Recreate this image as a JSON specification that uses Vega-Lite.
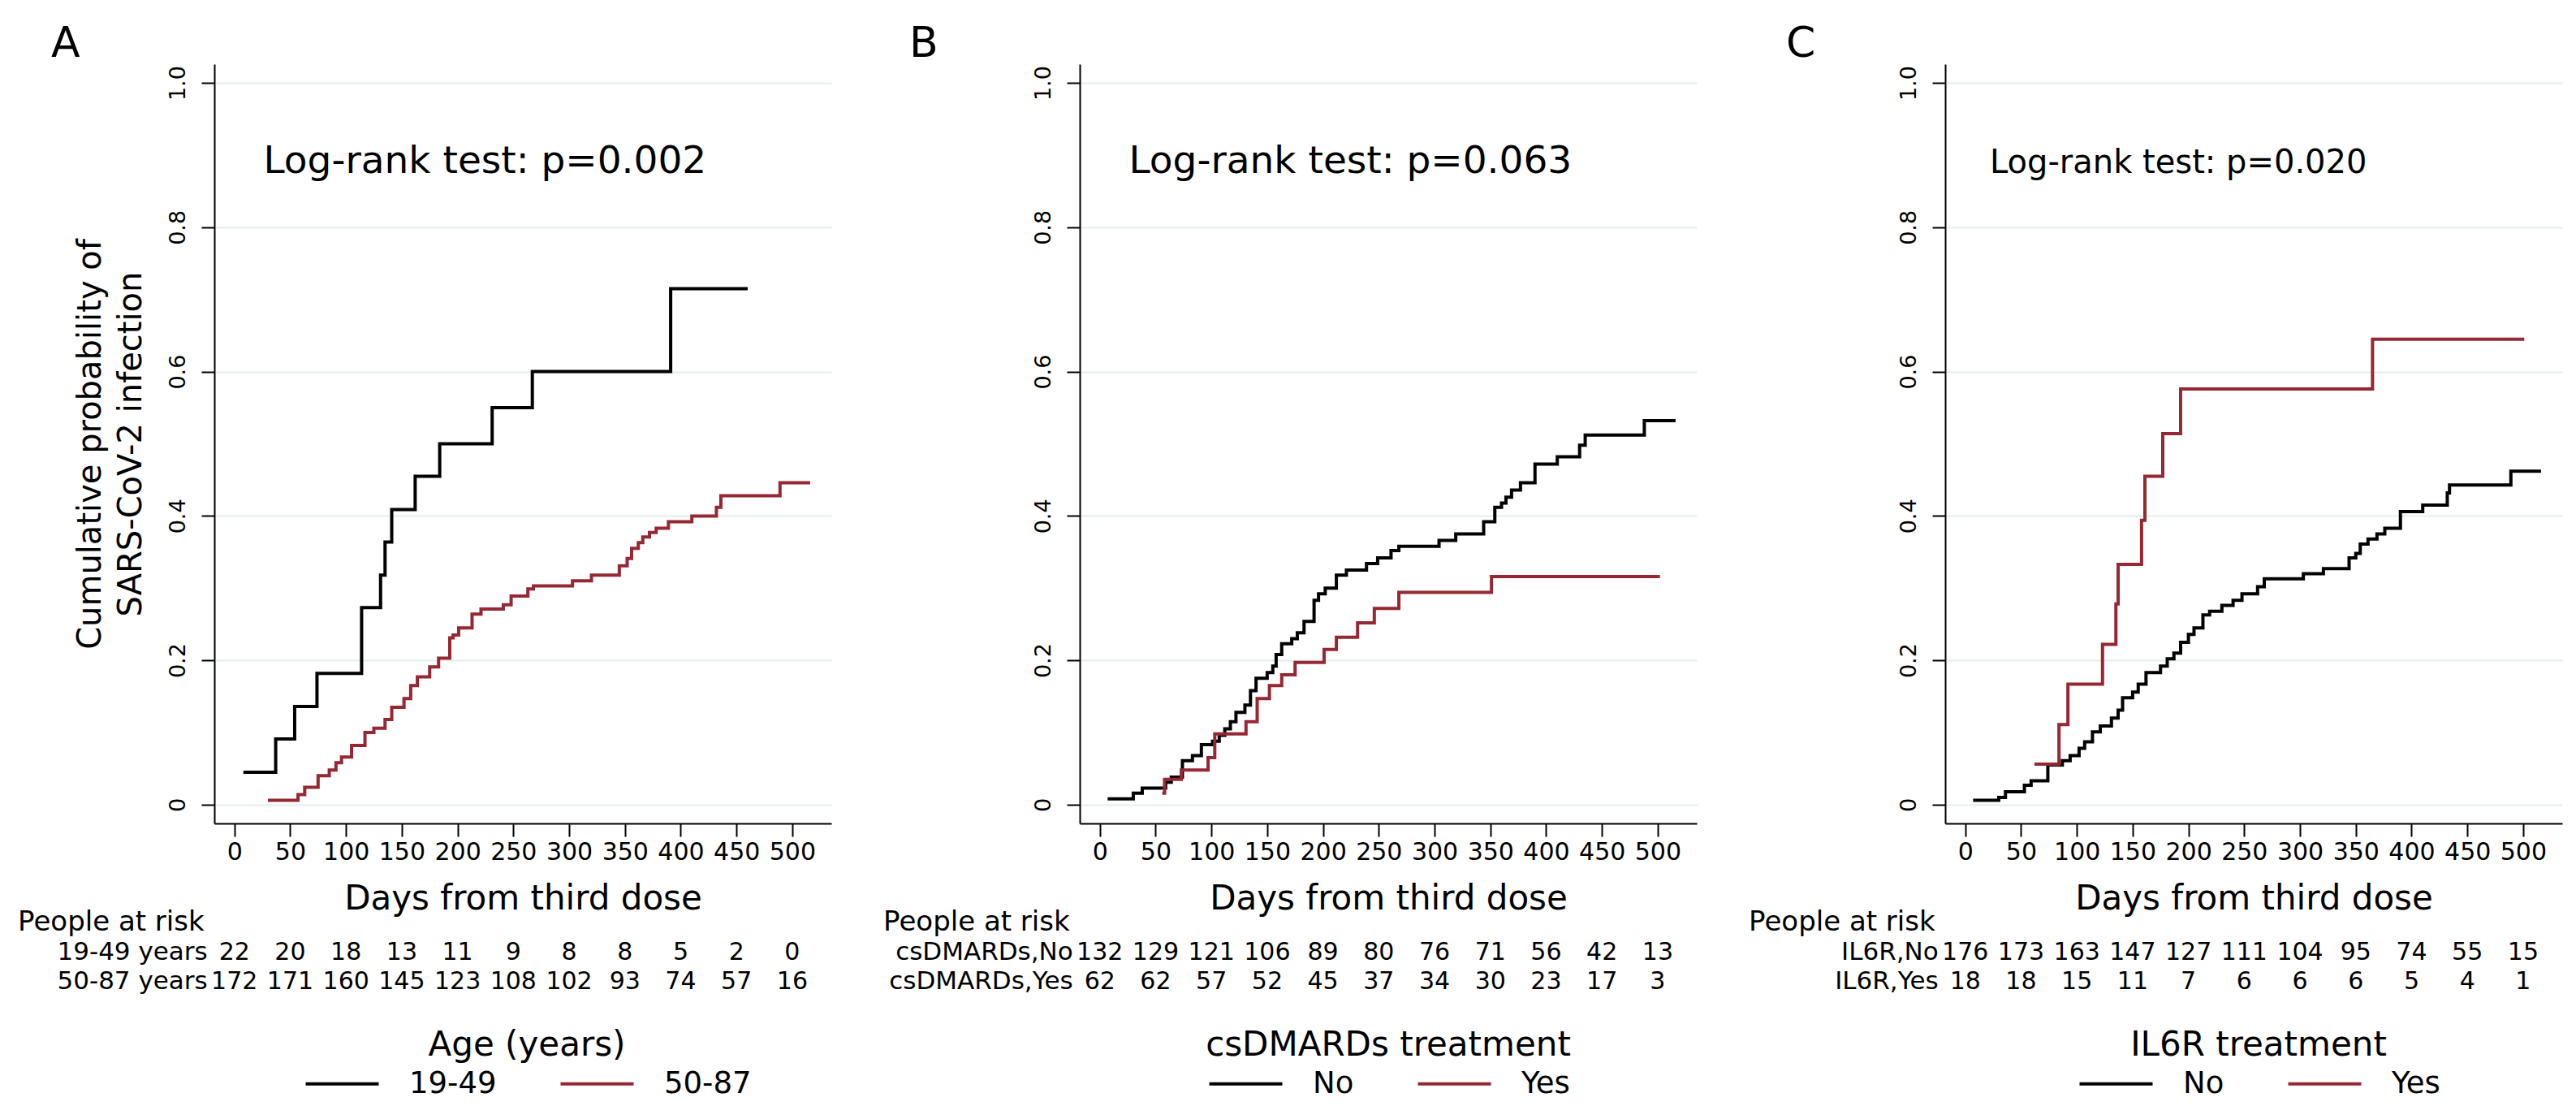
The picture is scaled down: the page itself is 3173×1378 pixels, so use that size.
{
  "$schema": "https://vega.github.io/schema/vega-lite/v6.json",
  "background": "white",
  "padding": {"left": 22, "top": 28, "right": 5, "bottom": 5},
  "config": {
    "font": "DejaVu Sans",
    "view": {"stroke": null},
    "axis": {"labelColor": "black", "titleColor": "black", "domainColor": "black", "tickColor": "black", "titleFontWeight": "normal"},
    "text": {"color": "black"}
  },
  "datasets": {
    "kmA": [
      {"group": "19-49", "day": 8, "cum": 0.045}, {"group": "19-49", "day": 37, "cum": 0.091}, {"group": "19-49", "day": 54, "cum": 0.136}, {"group": "19-49", "day": 74, "cum": 0.182}, {"group": "19-49", "day": 114, "cum": 0.273}, {"group": "19-49", "day": 131, "cum": 0.318}, {"group": "19-49", "day": 135, "cum": 0.364}, {"group": "19-49", "day": 141, "cum": 0.409}, {"group": "19-49", "day": 162, "cum": 0.455}, {"group": "19-49", "day": 184, "cum": 0.5}, {"group": "19-49", "day": 231, "cum": 0.55}, {"group": "19-49", "day": 267, "cum": 0.6}, {"group": "19-49", "day": 391, "cum": 0.715}, {"group": "19-49", "day": 460, "cum": 0.715},
      {"group": "50-87", "day": 30, "cum": 0.006}, {"group": "50-87", "day": 57, "cum": 0.014}, {"group": "50-87", "day": 63, "cum": 0.024}, {"group": "50-87", "day": 75, "cum": 0.04}, {"group": "50-87", "day": 85, "cum": 0.048}, {"group": "50-87", "day": 91, "cum": 0.058}, {"group": "50-87", "day": 96, "cum": 0.066}, {"group": "50-87", "day": 105, "cum": 0.082}, {"group": "50-87", "day": 117, "cum": 0.1}, {"group": "50-87", "day": 125, "cum": 0.106}, {"group": "50-87", "day": 135, "cum": 0.118}, {"group": "50-87", "day": 141, "cum": 0.135}, {"group": "50-87", "day": 152, "cum": 0.147}, {"group": "50-87", "day": 158, "cum": 0.165}, {"group": "50-87", "day": 164, "cum": 0.177}, {"group": "50-87", "day": 175, "cum": 0.191}, {"group": "50-87", "day": 183, "cum": 0.203}, {"group": "50-87", "day": 193, "cum": 0.231}, {"group": "50-87", "day": 196, "cum": 0.235}, {"group": "50-87", "day": 201, "cum": 0.245}, {"group": "50-87", "day": 213, "cum": 0.264}, {"group": "50-87", "day": 221, "cum": 0.271}, {"group": "50-87", "day": 241, "cum": 0.277}, {"group": "50-87", "day": 248, "cum": 0.289}, {"group": "50-87", "day": 263, "cum": 0.299}, {"group": "50-87", "day": 268, "cum": 0.303}, {"group": "50-87", "day": 303, "cum": 0.31}, {"group": "50-87", "day": 320, "cum": 0.318}, {"group": "50-87", "day": 345, "cum": 0.331}, {"group": "50-87", "day": 352, "cum": 0.341}, {"group": "50-87", "day": 356, "cum": 0.355}, {"group": "50-87", "day": 362, "cum": 0.363}, {"group": "50-87", "day": 366, "cum": 0.371}, {"group": "50-87", "day": 372, "cum": 0.377}, {"group": "50-87", "day": 378, "cum": 0.383}, {"group": "50-87", "day": 389, "cum": 0.392}, {"group": "50-87", "day": 410, "cum": 0.4}, {"group": "50-87", "day": 432, "cum": 0.412}, {"group": "50-87", "day": 436, "cum": 0.428}, {"group": "50-87", "day": 489, "cum": 0.446}, {"group": "50-87", "day": 516, "cum": 0.446}
    ],
    "kmB": [
      {"group": "No", "day": 7, "cum": 0.008}, {"group": "No", "day": 30, "cum": 0.016}, {"group": "No", "day": 38, "cum": 0.023}, {"group": "No", "day": 59, "cum": 0.031}, {"group": "No", "day": 64, "cum": 0.038}, {"group": "No", "day": 74, "cum": 0.061}, {"group": "No", "day": 83, "cum": 0.068}, {"group": "No", "day": 91, "cum": 0.083}, {"group": "No", "day": 101, "cum": 0.088}, {"group": "No", "day": 107, "cum": 0.096}, {"group": "No", "day": 112, "cum": 0.105}, {"group": "No", "day": 117, "cum": 0.115}, {"group": "No", "day": 122, "cum": 0.128}, {"group": "No", "day": 130, "cum": 0.138}, {"group": "No", "day": 135, "cum": 0.158}, {"group": "No", "day": 140, "cum": 0.175}, {"group": "No", "day": 150, "cum": 0.183}, {"group": "No", "day": 155, "cum": 0.192}, {"group": "No", "day": 158, "cum": 0.208}, {"group": "No", "day": 163, "cum": 0.223}, {"group": "No", "day": 172, "cum": 0.23}, {"group": "No", "day": 177, "cum": 0.238}, {"group": "No", "day": 183, "cum": 0.254}, {"group": "No", "day": 192, "cum": 0.283}, {"group": "No", "day": 196, "cum": 0.292}, {"group": "No", "day": 202, "cum": 0.3}, {"group": "No", "day": 212, "cum": 0.318}, {"group": "No", "day": 221, "cum": 0.325}, {"group": "No", "day": 239, "cum": 0.334}, {"group": "No", "day": 249, "cum": 0.342}, {"group": "No", "day": 261, "cum": 0.352}, {"group": "No", "day": 268, "cum": 0.358}, {"group": "No", "day": 304, "cum": 0.366}, {"group": "No", "day": 319, "cum": 0.375}, {"group": "No", "day": 344, "cum": 0.392}, {"group": "No", "day": 354, "cum": 0.412}, {"group": "No", "day": 360, "cum": 0.418}, {"group": "No", "day": 364, "cum": 0.426}, {"group": "No", "day": 369, "cum": 0.436}, {"group": "No", "day": 377, "cum": 0.446}, {"group": "No", "day": 390, "cum": 0.472}, {"group": "No", "day": 410, "cum": 0.482}, {"group": "No", "day": 430, "cum": 0.498}, {"group": "No", "day": 435, "cum": 0.512}, {"group": "No", "day": 488, "cum": 0.532}, {"group": "No", "day": 516, "cum": 0.532},
      {"group": "Yes", "day": 56, "cum": 0.016}, {"group": "Yes", "day": 58, "cum": 0.035}, {"group": "Yes", "day": 73, "cum": 0.048}, {"group": "Yes", "day": 97, "cum": 0.065}, {"group": "Yes", "day": 103, "cum": 0.098}, {"group": "Yes", "day": 131, "cum": 0.115}, {"group": "Yes", "day": 141, "cum": 0.147}, {"group": "Yes", "day": 152, "cum": 0.165}, {"group": "Yes", "day": 163, "cum": 0.18}, {"group": "Yes", "day": 175, "cum": 0.197}, {"group": "Yes", "day": 201, "cum": 0.215}, {"group": "Yes", "day": 212, "cum": 0.232}, {"group": "Yes", "day": 231, "cum": 0.252}, {"group": "Yes", "day": 246, "cum": 0.272}, {"group": "Yes", "day": 268, "cum": 0.294}, {"group": "Yes", "day": 351, "cum": 0.316}, {"group": "Yes", "day": 502, "cum": 0.316}
    ],
    "kmC": [
      {"group": "No", "day": 7, "cum": 0.006}, {"group": "No", "day": 30, "cum": 0.01}, {"group": "No", "day": 36, "cum": 0.018}, {"group": "No", "day": 53, "cum": 0.027}, {"group": "No", "day": 59, "cum": 0.033}, {"group": "No", "day": 74, "cum": 0.055}, {"group": "No", "day": 87, "cum": 0.061}, {"group": "No", "day": 94, "cum": 0.068}, {"group": "No", "day": 102, "cum": 0.078}, {"group": "No", "day": 107, "cum": 0.087}, {"group": "No", "day": 114, "cum": 0.101}, {"group": "No", "day": 121, "cum": 0.109}, {"group": "No", "day": 131, "cum": 0.12}, {"group": "No", "day": 137, "cum": 0.131}, {"group": "No", "day": 141, "cum": 0.148}, {"group": "No", "day": 150, "cum": 0.156}, {"group": "No", "day": 155, "cum": 0.167}, {"group": "No", "day": 162, "cum": 0.183}, {"group": "No", "day": 175, "cum": 0.192}, {"group": "No", "day": 181, "cum": 0.202}, {"group": "No", "day": 187, "cum": 0.21}, {"group": "No", "day": 193, "cum": 0.225}, {"group": "No", "day": 200, "cum": 0.236}, {"group": "No", "day": 205, "cum": 0.245}, {"group": "No", "day": 213, "cum": 0.263}, {"group": "No", "day": 219, "cum": 0.268}, {"group": "No", "day": 230, "cum": 0.276}, {"group": "No", "day": 240, "cum": 0.283}, {"group": "No", "day": 248, "cum": 0.292}, {"group": "No", "day": 262, "cum": 0.302}, {"group": "No", "day": 268, "cum": 0.313}, {"group": "No", "day": 303, "cum": 0.32}, {"group": "No", "day": 321, "cum": 0.327}, {"group": "No", "day": 344, "cum": 0.342}, {"group": "No", "day": 350, "cum": 0.348}, {"group": "No", "day": 354, "cum": 0.361}, {"group": "No", "day": 361, "cum": 0.368}, {"group": "No", "day": 369, "cum": 0.375}, {"group": "No", "day": 376, "cum": 0.383}, {"group": "No", "day": 390, "cum": 0.406}, {"group": "No", "day": 410, "cum": 0.415}, {"group": "No", "day": 432, "cum": 0.432}, {"group": "No", "day": 434, "cum": 0.443}, {"group": "No", "day": 489, "cum": 0.462}, {"group": "No", "day": 516, "cum": 0.462},
      {"group": "Yes", "day": 62, "cum": 0.056}, {"group": "Yes", "day": 84, "cum": 0.111}, {"group": "Yes", "day": 92, "cum": 0.167}, {"group": "Yes", "day": 123, "cum": 0.222}, {"group": "Yes", "day": 135, "cum": 0.278}, {"group": "Yes", "day": 137, "cum": 0.333}, {"group": "Yes", "day": 158, "cum": 0.394}, {"group": "Yes", "day": 161, "cum": 0.455}, {"group": "Yes", "day": 177, "cum": 0.514}, {"group": "Yes", "day": 193, "cum": 0.576}, {"group": "Yes", "day": 365, "cum": 0.645}, {"group": "Yes", "day": 501, "cum": 0.645}
    ],
    "riskA": [
      {"row": "19-49 years", "day": 0, "n": 22}, {"row": "19-49 years", "day": 50, "n": 20}, {"row": "19-49 years", "day": 100, "n": 18}, {"row": "19-49 years", "day": 150, "n": 13}, {"row": "19-49 years", "day": 200, "n": 11}, {"row": "19-49 years", "day": 250, "n": 9}, {"row": "19-49 years", "day": 300, "n": 8}, {"row": "19-49 years", "day": 350, "n": 8}, {"row": "19-49 years", "day": 400, "n": 5}, {"row": "19-49 years", "day": 450, "n": 2}, {"row": "19-49 years", "day": 500, "n": 0},
      {"row": "50-87 years", "day": 0, "n": 172}, {"row": "50-87 years", "day": 50, "n": 171}, {"row": "50-87 years", "day": 100, "n": 160}, {"row": "50-87 years", "day": 150, "n": 145}, {"row": "50-87 years", "day": 200, "n": 123}, {"row": "50-87 years", "day": 250, "n": 108}, {"row": "50-87 years", "day": 300, "n": 102}, {"row": "50-87 years", "day": 350, "n": 93}, {"row": "50-87 years", "day": 400, "n": 74}, {"row": "50-87 years", "day": 450, "n": 57}, {"row": "50-87 years", "day": 500, "n": 16}
    ],
    "riskB": [
      {"row": "csDMARDs,No", "day": 0, "n": 132}, {"row": "csDMARDs,No", "day": 50, "n": 129}, {"row": "csDMARDs,No", "day": 100, "n": 121}, {"row": "csDMARDs,No", "day": 150, "n": 106}, {"row": "csDMARDs,No", "day": 200, "n": 89}, {"row": "csDMARDs,No", "day": 250, "n": 80}, {"row": "csDMARDs,No", "day": 300, "n": 76}, {"row": "csDMARDs,No", "day": 350, "n": 71}, {"row": "csDMARDs,No", "day": 400, "n": 56}, {"row": "csDMARDs,No", "day": 450, "n": 42}, {"row": "csDMARDs,No", "day": 500, "n": 13},
      {"row": "csDMARDs,Yes", "day": 0, "n": 62}, {"row": "csDMARDs,Yes", "day": 50, "n": 62}, {"row": "csDMARDs,Yes", "day": 100, "n": 57}, {"row": "csDMARDs,Yes", "day": 150, "n": 52}, {"row": "csDMARDs,Yes", "day": 200, "n": 45}, {"row": "csDMARDs,Yes", "day": 250, "n": 37}, {"row": "csDMARDs,Yes", "day": 300, "n": 34}, {"row": "csDMARDs,Yes", "day": 350, "n": 30}, {"row": "csDMARDs,Yes", "day": 400, "n": 23}, {"row": "csDMARDs,Yes", "day": 450, "n": 17}, {"row": "csDMARDs,Yes", "day": 500, "n": 3}
    ],
    "riskC": [
      {"row": "IL6R,No", "day": 0, "n": 176}, {"row": "IL6R,No", "day": 50, "n": 173}, {"row": "IL6R,No", "day": 100, "n": 163}, {"row": "IL6R,No", "day": 150, "n": 147}, {"row": "IL6R,No", "day": 200, "n": 127}, {"row": "IL6R,No", "day": 250, "n": 111}, {"row": "IL6R,No", "day": 300, "n": 104}, {"row": "IL6R,No", "day": 350, "n": 95}, {"row": "IL6R,No", "day": 400, "n": 74}, {"row": "IL6R,No", "day": 450, "n": 55}, {"row": "IL6R,No", "day": 500, "n": 15},
      {"row": "IL6R,Yes", "day": 0, "n": 18}, {"row": "IL6R,Yes", "day": 50, "n": 18}, {"row": "IL6R,Yes", "day": 100, "n": 15}, {"row": "IL6R,Yes", "day": 150, "n": 11}, {"row": "IL6R,Yes", "day": 200, "n": 7}, {"row": "IL6R,Yes", "day": 250, "n": 6}, {"row": "IL6R,Yes", "day": 300, "n": 6}, {"row": "IL6R,Yes", "day": 350, "n": 6}, {"row": "IL6R,Yes", "day": 400, "n": 5}, {"row": "IL6R,Yes", "day": 450, "n": 4}, {"row": "IL6R,Yes", "day": 500, "n": 1}
    ]
  },
  "hconcat": [
    {
      "title": {"text": "A", "anchor": "start", "frame": "group", "dx": -201, "fontSize": 52, "fontWeight": "normal", "baseline": "alphabetic", "offset": -43, "color": "black"},
      "width": 760, "height": 935,
      "layer": [
        {
          "layer": [
            {
              "data": {"name": "kmA"},
              "mark": {"type": "line", "interpolate": "step-after", "strokeWidth": 4},
              "encoding": {
                "x": {"field": "day", "type": "quantitative", "scale": {"domain": [-18, 535], "nice": false, "zero": false},
                  "axis": {"title": "Days from third dose", "values": [0, 50, 100, 150, 200, 250, 300, 350, 400, 450, 500], "grid": false, "labelFontSize": 30, "titleFontSize": 42, "tickSize": 16, "tickWidth": 2, "domainWidth": 2, "labelPadding": 4, "titlePadding": 22, "labelFlush": false, "labelOverlap": false}},
                "y": {"field": "cum", "type": "quantitative", "scale": {"domain": [-0.026, 1.026], "nice": false, "zero": false},
                  "axis": {"title": ["Cumulative probability of", "SARS-CoV-2 infection"], "values": [0, 0.2, 0.4, 0.6, 0.8, 1], "labelExpr": "datum.value == 0 ? '0' : format(datum.value, '.1f')", "labelAngle": 270, "labelAlign": "center", "labelBaseline": "bottom", "labelFontSize": 27, "labelPadding": 15, "tickSize": 16, "tickWidth": 2, "domainWidth": 2, "grid": true, "gridColor": "#e3eded", "gridWidth": 2, "titleFontSize": 40, "titleLineHeight": 50, "titlePadding": 24}},
                "color": {"field": "group", "type": "nominal", "scale": {"domain": ["19-49", "50-87"], "range": ["#000000", "#962833"]},
                  "legend": {"orient": "none", "legendX": 109, "legendY": 1188, "direction": "horizontal", "title": "Age (years)", "titleFontSize": 42, "titleFontWeight": "normal", "titleAnchor": "middle", "titleOrient": "top", "titlePadding": 7, "titleColor": "black", "titleLimit": 0, "labelLimit": 0, "labelFontSize": 37, "labelColor": "black", "symbolType": "M-1,0H5", "symbolSize": 900, "symbolStrokeWidth": 4, "labelOffset": 94, "columnPadding": 70}}
              }
            },
            {
              "data": {"values": [{"label": "Log-rank test: p=0.002"}]},
              "mark": {"type": "text", "align": "left", "baseline": "alphabetic", "fontSize": 47},
              "encoding": {"x": {"datum": 26}, "y": {"datum": 0.875}, "text": {"field": "label"}}
            }
          ]
        },
        {
          "data": {"name": "riskA"},
          "layer": [
            {
              "mark": {"type": "text", "align": "center", "baseline": "alphabetic", "fontSize": 30},
              "encoding": {
                "x": {"field": "day", "type": "quantitative"},
                "y": {"field": "row", "type": "nominal", "scale": {"type": "point", "domain": ["People at risk", "19-49 years", "50-87 years"], "range": [1067, 1139], "padding": 0}, "axis": null},
                "text": {"field": "n"}
              }
            },
            {
              "transform": [{"filter": "datum.day == 0"}],
              "mark": {"type": "text", "align": "right", "baseline": "alphabetic", "fontSize": 31},
              "encoding": {"x": {"datum": -24}, "y": {"field": "row", "type": "nominal"}, "text": {"field": "row"}}
            },
            {
              "transform": [{"filter": "datum.day == 0 && datum.n == 22"}],
              "mark": {"type": "text", "align": "left", "baseline": "alphabetic", "fontSize": 34, "text": "People at risk"},
              "encoding": {"x": {"datum": -194}, "y": {"datum": "People at risk"}}
            }
          ]
        }
      ],
      "resolve": {"scale": {"y": "independent"}, "axis": {"y": "independent"}}
    },
    {
      "title": {"text": "B", "anchor": "start", "frame": "group", "dx": -210, "fontSize": 52, "fontWeight": "normal", "baseline": "alphabetic", "offset": -43, "color": "black"},
      "width": 760, "height": 935,
      "layer": [
        {
          "layer": [
            {
              "data": {"name": "kmB"},
              "mark": {"type": "line", "interpolate": "step-after", "strokeWidth": 4},
              "encoding": {
                "x": {"field": "day", "type": "quantitative", "scale": {"domain": [-18, 535], "nice": false, "zero": false},
                  "axis": {"title": "Days from third dose", "values": [0, 50, 100, 150, 200, 250, 300, 350, 400, 450, 500], "grid": false, "labelFontSize": 30, "titleFontSize": 42, "tickSize": 16, "tickWidth": 2, "domainWidth": 2, "labelPadding": 4, "titlePadding": 22, "labelFlush": false, "labelOverlap": false}},
                "y": {"field": "cum", "type": "quantitative", "scale": {"domain": [-0.026, 1.026], "nice": false, "zero": false},
                  "axis": {"title": null, "values": [0, 0.2, 0.4, 0.6, 0.8, 1], "labelExpr": "datum.value == 0 ? '0' : format(datum.value, '.1f')", "labelAngle": 270, "labelAlign": "center", "labelBaseline": "bottom", "labelFontSize": 27, "labelPadding": 15, "tickSize": 16, "tickWidth": 2, "domainWidth": 2, "grid": true, "gridColor": "#e3eded", "gridWidth": 2}},
                "color": {"field": "group", "type": "nominal", "scale": {"domain": ["No", "Yes"], "range": ["#000000", "#962833"]},
                  "legend": {"orient": "none", "legendX": 155, "legendY": 1188, "direction": "horizontal", "title": "csDMARDs treatment", "titleFontSize": 42, "titleFontWeight": "normal", "titleAnchor": "middle", "titleOrient": "top", "titlePadding": 7, "titleColor": "black", "titleLimit": 0, "labelLimit": 0, "labelFontSize": 37, "labelColor": "black", "symbolType": "M-1,0H5", "symbolSize": 900, "symbolStrokeWidth": 4, "labelOffset": 94, "columnPadding": 70}}
              }
            },
            {
              "data": {"values": [{"label": "Log-rank test: p=0.063"}]},
              "mark": {"type": "text", "align": "left", "baseline": "alphabetic", "fontSize": 47},
              "encoding": {"x": {"datum": 26}, "y": {"datum": 0.875}, "text": {"field": "label"}}
            }
          ]
        },
        {
          "data": {"name": "riskB"},
          "layer": [
            {
              "mark": {"type": "text", "align": "center", "baseline": "alphabetic", "fontSize": 30},
              "encoding": {
                "x": {"field": "day", "type": "quantitative"},
                "y": {"field": "row", "type": "nominal", "scale": {"type": "point", "domain": ["People at risk", "csDMARDs,No", "csDMARDs,Yes"], "range": [1067, 1139], "padding": 0}, "axis": null},
                "text": {"field": "n"}
              }
            },
            {
              "transform": [{"filter": "datum.day == 0"}],
              "mark": {"type": "text", "align": "right", "baseline": "alphabetic", "fontSize": 31},
              "encoding": {"x": {"datum": -24}, "y": {"field": "row", "type": "nominal"}, "text": {"field": "row"}}
            },
            {
              "transform": [{"filter": "datum.day == 0 && datum.n == 132"}],
              "mark": {"type": "text", "align": "left", "baseline": "alphabetic", "fontSize": 34, "text": "People at risk"},
              "encoding": {"x": {"datum": -194}, "y": {"datum": "People at risk"}}
            }
          ]
        }
      ],
      "resolve": {"scale": {"y": "independent"}, "axis": {"y": "independent"}}
    },
    {
      "title": {"text": "C", "anchor": "start", "frame": "group", "dx": -196, "fontSize": 52, "fontWeight": "normal", "baseline": "alphabetic", "offset": -43, "color": "black"},
      "width": 760, "height": 935,
      "layer": [
        {
          "layer": [
            {
              "data": {"name": "kmC"},
              "mark": {"type": "line", "interpolate": "step-after", "strokeWidth": 4},
              "encoding": {
                "x": {"field": "day", "type": "quantitative", "scale": {"domain": [-18, 535], "nice": false, "zero": false},
                  "axis": {"title": "Days from third dose", "values": [0, 50, 100, 150, 200, 250, 300, 350, 400, 450, 500], "grid": false, "labelFontSize": 30, "titleFontSize": 42, "tickSize": 16, "tickWidth": 2, "domainWidth": 2, "labelPadding": 4, "titlePadding": 22, "labelFlush": false, "labelOverlap": false}},
                "y": {"field": "cum", "type": "quantitative", "scale": {"domain": [-0.026, 1.026], "nice": false, "zero": false},
                  "axis": {"title": null, "values": [0, 0.2, 0.4, 0.6, 0.8, 1], "labelExpr": "datum.value == 0 ? '0' : format(datum.value, '.1f')", "labelAngle": 270, "labelAlign": "center", "labelBaseline": "bottom", "labelFontSize": 27, "labelPadding": 15, "tickSize": 16, "tickWidth": 2, "domainWidth": 2, "grid": true, "gridColor": "#e3eded", "gridWidth": 2}},
                "color": {"field": "group", "type": "nominal", "scale": {"domain": ["No", "Yes"], "range": ["#000000", "#962833"]},
                  "legend": {"orient": "none", "legendX": 162, "legendY": 1188, "direction": "horizontal", "title": "IL6R treatment", "titleFontSize": 42, "titleFontWeight": "normal", "titleAnchor": "middle", "titleOrient": "top", "titlePadding": 7, "titleColor": "black", "titleLimit": 0, "labelLimit": 0, "labelFontSize": 37, "labelColor": "black", "symbolType": "M-1,0H5", "symbolSize": 900, "symbolStrokeWidth": 4, "labelOffset": 94, "columnPadding": 70}}
              }
            },
            {
              "data": {"values": [{"label": "Log-rank test: p=0.020"}]},
              "mark": {"type": "text", "align": "left", "baseline": "alphabetic", "fontSize": 40},
              "encoding": {"x": {"datum": 22}, "y": {"datum": 0.875}, "text": {"field": "label"}}
            }
          ]
        },
        {
          "data": {"name": "riskC"},
          "layer": [
            {
              "mark": {"type": "text", "align": "center", "baseline": "alphabetic", "fontSize": 30},
              "encoding": {
                "x": {"field": "day", "type": "quantitative"},
                "y": {"field": "row", "type": "nominal", "scale": {"type": "point", "domain": ["People at risk", "IL6R,No", "IL6R,Yes"], "range": [1067, 1139], "padding": 0}, "axis": null},
                "text": {"field": "n"}
              }
            },
            {
              "transform": [{"filter": "datum.day == 0"}],
              "mark": {"type": "text", "align": "right", "baseline": "alphabetic", "fontSize": 31},
              "encoding": {"x": {"datum": -24}, "y": {"field": "row", "type": "nominal"}, "text": {"field": "row"}}
            },
            {
              "transform": [{"filter": "datum.day == 0 && datum.n == 176"}],
              "mark": {"type": "text", "align": "left", "baseline": "alphabetic", "fontSize": 34, "text": "People at risk"},
              "encoding": {"x": {"datum": -194}, "y": {"datum": "People at risk"}}
            }
          ]
        }
      ],
      "resolve": {"scale": {"y": "independent"}, "axis": {"y": "independent"}}
    }
  ],
  "spacing": 64,
  "resolve": {"scale": {"color": "independent", "x": "independent", "y": "independent"}, "legend": {"color": "independent"}}
}
